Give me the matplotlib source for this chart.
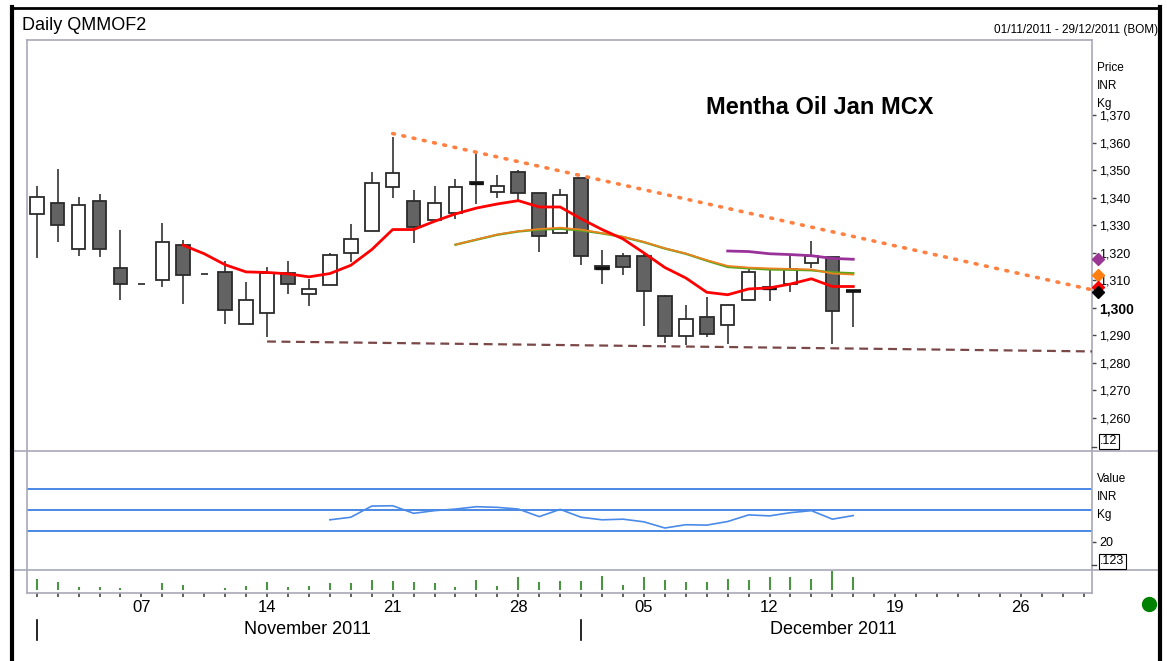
import matplotlib.pyplot as plt
from matplotlib.lines import Line2D

plt.rcParams['font.family'] = ['Liberation Sans', 'DejaVu Sans']

W, H = 1167, 661

# trading days (Sundays skipped), index 0 = Tue 01 Nov 2011
day_labels = {5: '07', 11: '14', 17: '21', 23: '28', 29: '05', 35: '12', 41: '19', 47: '26'}
n_days = 51
months = ['November 2011', 'December 2011']
month_start = [0, 26]

opens = [1334.2, 1338.1, 1321.5, 1338.9, 1314.5, 1308.7, 1309.9, 1322.7, 1312.1, 1312.8,
         1294.2, 1297.9, 1312.5, 1305.0, 1308.2, 1319.8, 1327.8, 1343.7, 1338.9, 1331.7,
         1334.3, 1345.8, 1342.2, 1349.2, 1341.7, 1327.2, 1347.0, 1315.0, 1318.7, 1318.7,
         1304.1, 1289.7, 1296.7, 1293.8, 1302.9, 1307.4, 1308.6, 1316.2, 1318.3, 1306.2]
highs = [1344.4, 1350.5, 1340.3, 1341.5, 1328.4, 1308.7, 1330.8, 1324.7, 1312.1, 1317.1,
         1309.2, 1314.7, 1317.1, 1310.5, 1319.9, 1330.3, 1349.3, 1362.1, 1342.7, 1344.4,
         1346.8, 1356.5, 1348.4, 1349.9, 1341.7, 1343.2, 1347.0, 1321.1, 1319.9, 1320.1,
         1304.7, 1301.0, 1303.9, 1300.8, 1314.8, 1313.6, 1319.6, 1324.1, 1318.3, 1306.2]
lows = [1318.1, 1323.8, 1318.7, 1318.3, 1302.7, 1308.7, 1307.4, 1301.5, 1312.1, 1294.2,
        1294.2, 1289.5, 1304.8, 1300.7, 1308.2, 1316.6, 1327.8, 1339.9, 1323.5, 1331.7,
        1332.3, 1337.8, 1339.9, 1338.7, 1320.3, 1327.2, 1315.5, 1308.6, 1312.0, 1293.5,
        1287.2, 1286.3, 1289.2, 1286.8, 1302.9, 1302.3, 1305.6, 1314.4, 1286.8, 1292.8]
closes = [1340.1, 1330.1, 1337.2, 1321.5, 1308.6, 1308.7, 1324.0, 1312.0, 1312.1, 1299.2,
          1302.9, 1312.6, 1308.6, 1306.7, 1319.0, 1325.0, 1345.5, 1349.0, 1329.3, 1338.1,
          1343.7, 1345.1, 1344.1, 1341.7, 1326.0, 1340.8, 1318.9, 1314.1, 1314.9, 1306.2,
          1289.8, 1295.9, 1290.4, 1300.8, 1313.0, 1306.9, 1314.1, 1318.7, 1298.7, 1306.2]
volume = [30, 20, 9, 9, 6, 0, 17, 13, 0, 6, 10, 20, 7, 10, 17, 17, 27, 23, 20, 17,
          7, 27, 10, 33, 20, 23, 23, 37, 13, 33, 27, 20, 20, 30, 27, 33, 33, 30, 49, 33]

red_start = 7
red_ma = [1322.7, 1319.6, 1315.6, 1313.0, 1312.8, 1312.3, 1311.2, 1312.4, 1315.4, 1321.1,
          1328.4, 1328.4, 1331.4, 1334.1, 1336.2, 1337.7, 1338.9, 1336.6, 1336.6, 1332.3,
          1328.4, 1325.0, 1319.9, 1314.6, 1310.8, 1305.6, 1304.7, 1306.8, 1307.2, 1308.6,
          1310.5, 1307.7, 1307.7]
ma_start = 20
green_ma = [1322.9, 1324.7, 1326.5, 1327.7, 1328.4, 1328.7, 1328.1, 1327.0, 1325.7, 1323.8,
            1321.5, 1319.6, 1317.1, 1314.8, 1314.3, 1313.9, 1313.8, 1313.6, 1312.8, 1312.5]
orange_ma = [1322.9, 1324.8, 1326.6, 1327.8, 1328.6, 1329.1, 1328.4, 1327.1, 1325.8, 1323.9,
             1321.6, 1319.7, 1317.3, 1315.2, 1314.6, 1314.3, 1314.1, 1313.9, 1312.4, 1312.0]
purple_start = 33
purple_ma = [1320.6, 1320.4, 1319.6, 1319.3, 1318.9, 1317.9, 1317.6]

trend_x = [17, 50.4]
trend_y = [1363.3, 1306.5]
support_x = [11, 50.4]
support_y = [1287.7, 1284.1]

last_vals = [1317.8, 1312.0, 1307.6, 1305.8]
last_cols = ['#9b3592', '#ff8010', '#ff0000', '#000000']

ind_start = 14
indicator = [40.8, 43.2, 53.7, 54.0, 46.9, 49.4, 50.9, 53.1, 52.5, 50.9, 43.8, 50.6, 43.2,
             40.8, 41.4, 38.9, 33.1, 36.2, 35.8, 39.2, 45.4, 44.5, 47.5, 49.4, 41.4, 44.8]
ind_levels = [30, 50, 70]

price_ticks = list(range(1260, 1371, 10))

GREY = '#a9a9b9'


def fx(x):
    return x / W


def fy(y):
    return 1 - y / H


def fline(x0, y0, x1, y1, **kw):
    fig.add_artist(Line2D([fx(x0), fx(x1)], [fy(y0), fy(y1)], transform=fig.transFigure, **kw))


fig = plt.figure(figsize=(W / 100, H / 100), dpi=100)
L, R = 27.3, 1092


def pane(top, bottom):
    return fig.add_axes([fx(L), fy(bottom), fx(R) - fx(L), (bottom - top) / H])


ax = pane(40, 451)
ax_ind = pane(451, 570.3)
ax_vol = pane(570.3, 592.7)
for a in (ax, ax_ind, ax_vol):
    a.set_xlim(-0.45, 50.4)
    for s in a.spines.values():
        s.set_color(GREY)
        s.set_linewidth(1.2)
    a.yaxis.tick_right()
    a.tick_params(axis='y', direction='out', length=3, width=1, color='#444444',
                  labelsize=9, pad=2)
ax.spines['bottom'].set_visible(False)
ax_ind.spines['top'].set_visible(False)
ax_ind.spines['bottom'].set_visible(False)
ax_vol.spines['top'].set_visible(False)

# price pane
ax.set_ylim(1247.9, 1397.3)
for i in range(len(opens)):
    o, h, l, c = opens[i], highs[i], lows[i], closes[i]
    if h == l:
        ax.hlines(c, i - 0.17, i + 0.17, color='#444444', lw=1.4, zorder=3)
        continue
    ax.vlines(i, l, h, color='#333333', lw=1.2, zorder=2)
    if c == o:
        ax.hlines(c, i - 0.36, i + 0.36, color='#111111', lw=2.6, zorder=3)
        continue
    fill = 'white' if c > o else '#636363'
    ax.bar(i, c - o, bottom=o, width=0.65, color=fill, edgecolor='#2b2b2b', lw=1.3, zorder=3)
    if abs(c - o) < 1:
        ax.hlines((c + o) / 2, i - 0.33, i + 0.33, color='#111111', lw=2.4, zorder=4)

ax.plot(range(red_start, red_start + len(red_ma)), red_ma, color='#ff0000', lw=2, zorder=5)
ax.plot(range(ma_start, ma_start + len(green_ma)), green_ma, color='#5ea51e', lw=1.7, zorder=4)
ax.plot(range(ma_start, ma_start + len(orange_ma)), orange_ma, color='#f08020', lw=1.2, zorder=4)
ax.plot(range(purple_start, purple_start + len(purple_ma)), purple_ma, color='#993399', lw=2, zorder=4)
ax.plot(trend_x, trend_y, color='#ff8040', lw=2.6, ls=(0, (0.5, 2.4)), dash_capstyle='round', zorder=4)
ax.plot(support_x, support_y, color='#7b4848', lw=1.6, ls=(0, (4, 2.5)), zorder=4)
for v, col in zip(last_vals, last_cols):
    ax.plot(50.67, v, marker='D', ms=6, color=col, clip_on=False, zorder=6)

ax.set_xticks([])
ax.set_yticks(price_ticks)
ax.set_yticklabels([f'{v:,}' for v in price_ticks])
for t, v in zip(ax.get_yticklabels(), price_ticks):
    if v == 1300:
        t.set_fontweight('bold')
        t.set_fontsize(10)

fig.text(fx(820), fy(107), 'Mentha Oil Jan MCX', ha='center', va='center',
         fontsize=17, fontweight='bold')

for y, s in zip([68, 86, 104], ['Price', 'INR', 'Kg']):
    fig.text(fx(1097), fy(y), s, ha='left', va='center', fontsize=8.5)
fig.text(fx(1100), fy(441.5), '.12', ha='left', va='center', fontsize=9,
         bbox=dict(boxstyle='square,pad=0.12', fc='white', ec='black', lw=0.8))
fline(1092, 447, 1096, 447, color='#444444', lw=1)

# indicator pane
ax_ind.set_ylim(-6.6, 105.4)
for lv in ind_levels:
    ax_ind.axhline(lv, color='#3b7fe3', lw=1.3)
ax_ind.plot(range(ind_start, ind_start + len(indicator)), indicator, color='#4a8ae8', lw=1.2)
ax_ind.set_xticks([])
ax_ind.set_yticks([20])
ax_ind.set_yticklabels(['20'])
for y, s in zip([479, 497, 515], ['Value', 'INR', 'Kg']):
    fig.text(fx(1097), fy(y), s, ha='left', va='center', fontsize=8.5)
fig.text(fx(1100), fy(561), '.123', ha='left', va='center', fontsize=9,
         bbox=dict(boxstyle='square,pad=0.12', fc='white', ec='black', lw=0.8))
fline(1092, 565, 1096, 565, color='#444444', lw=1)

# volume pane
ax_vol.set_ylim(-7, 51.4)
ax_vol.vlines(range(len(volume)), 0, volume, color='#4b9441', lw=1.5)
ax_vol.set_yticks([])
ax_vol.set_xticks(range(n_days))
ax_vol.set_xticklabels([day_labels.get(i, '') for i in range(n_days)])
ax_vol.tick_params(axis='x', direction='out', length=3, width=1.2, color='#444444',
                   labelsize=12, pad=2.5)
xt = ax_vol.get_xaxis_transform()
for s in month_start:
    ax_vol.plot([s, s], [-1.219, -2.116], transform=xt, color='black', lw=1.2, clip_on=False)
for m, xpos in zip(months, [12.93, 38.06]):
    ax_vol.text(xpos, -1.665, m, transform=xt, ha='center', va='center', fontsize=13)

# frame, separators and header
fline(12, 451, 1160, 451, color=GREY, lw=1.2)
fline(12, 570.3, 1160, 570.3, color=GREY, lw=1.2)
fline(12, 8, 1160, 8, color='black', lw=2)
fline(12, 7, 12, 661, color='black', lw=3)
fline(1160, 7, 1160, 661, color='black', lw=3)
fig.text(fx(22), fy(25), 'Daily QMMOF2', ha='left', va='center', fontsize=13)
fig.text(fx(1158), fy(30), '01/11/2011 - 29/12/2011 (BOM)', ha='right', va='center', fontsize=8.5)
fig.add_artist(Line2D([fx(1149)], [fy(604)], marker='o', ms=10, color='#008000',
                      transform=fig.transFigure))

fig.savefig('out.png', dpi=100)
